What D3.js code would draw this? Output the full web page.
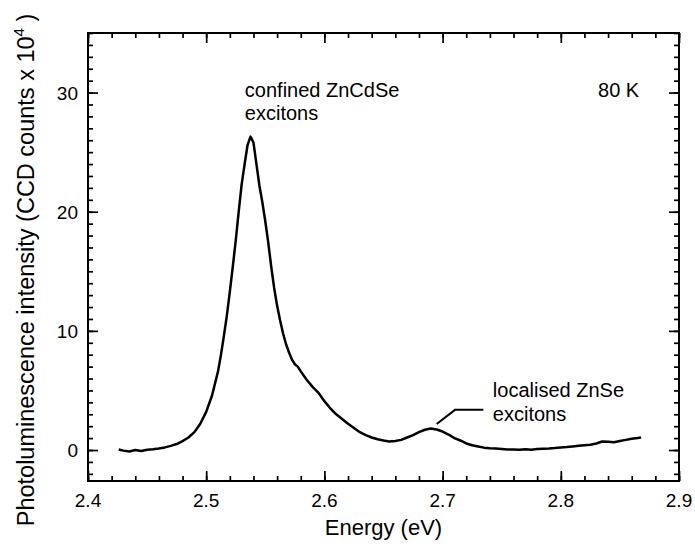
<!DOCTYPE html>
<html>
<head>
<meta charset="utf-8">
<script src="https://cdn.jsdelivr.net/npm/d3@7"></script>
<style>
  html, body { margin: 0; padding: 0; background: #fff; }
  svg { display: block; font-family: "Liberation Sans", Arial, sans-serif; }
</style>
</head>
<body>
<svg id="chart" width="695" height="550"></svg>
<script>
// ---- data ----
const energy = [
  2.426, 2.430, 2.435, 2.440, 2.445, 2.450, 2.455, 2.460, 2.465, 2.470,
  2.475, 2.480, 2.485, 2.490, 2.495, 2.500, 2.505, 2.5075, 2.510, 2.5125,
  2.515, 2.5175, 2.520, 2.5225, 2.525, 2.5275, 2.530, 2.5325, 2.535, 2.5375,
  2.540, 2.5425, 2.545, 2.5475, 2.550, 2.5525, 2.555, 2.5575, 2.560, 2.5625,
  2.565, 2.5675, 2.570, 2.5725, 2.575, 2.5775, 2.580, 2.585, 2.590, 2.595,
  2.600, 2.605, 2.610, 2.615, 2.620, 2.625, 2.630, 2.635, 2.640, 2.645,
  2.650, 2.655, 2.660, 2.665, 2.670, 2.675, 2.680, 2.685, 2.690, 2.695,
  2.700, 2.705, 2.710, 2.715, 2.720, 2.725, 2.730, 2.735, 2.740, 2.745,
  2.750, 2.755, 2.760, 2.765, 2.770, 2.775, 2.780, 2.785, 2.790, 2.795,
  2.800, 2.805, 2.810, 2.815, 2.820, 2.825, 2.830, 2.835, 2.840, 2.845,
  2.850, 2.855, 2.860, 2.865, 2.868
];
const intensity = [
  0.05, -0.05, -0.12, 0.0, -0.08, 0.02, 0.06, 0.12, 0.22, 0.35,
  0.5, 0.75, 1.05, 1.5, 2.2, 3.2, 4.6, 5.6, 6.6, 8.0,
  9.6, 11.3, 13.3, 15.4, 17.6, 20.0, 22.3, 24.0, 25.6, 26.3,
  25.8, 24.0, 22.2, 20.8, 19.2, 17.4, 15.4, 13.6, 12.1, 10.9,
  9.8, 8.9, 8.2, 7.6, 7.2, 7.0, 6.6, 5.9, 5.3, 4.8,
  4.1, 3.5, 3.0, 2.6, 2.2, 1.85, 1.5, 1.25, 1.05, 0.9,
  0.8, 0.72, 0.75, 0.85, 1.05, 1.25, 1.5, 1.7, 1.8, 1.72,
  1.55, 1.3, 1.0, 0.8, 0.55, 0.4, 0.3, 0.2, 0.15, 0.12,
  0.08, 0.05, 0.05, 0.02, 0.06, 0.03, 0.08, 0.1, 0.12, 0.16,
  0.22, 0.25, 0.3, 0.35, 0.4, 0.45, 0.55, 0.72, 0.7, 0.65,
  0.75, 0.85, 0.95, 1.0, 1.05
];
const xTicks = [2.4, 2.5, 2.6, 2.7, 2.8, 2.9];
const yTicks = [0, 10, 20, 30];
const xDomain = [2.4, 2.9];
const yDomain = [-2.6, 35];
const xLabel = "Energy (eV)";
const yLabelMain = "Photoluminescence intensity (CCD counts x 10";
const yLabelSup = "4";
const yLabelEnd = " )";
const annoPeak = ["confined ZnCdSe", "excitons"];
const annoSmall = ["localised ZnSe", "excitons"];
const tempLabel = "80 K";
// leader line for small peak, data coordinates
const leaderE = [2.695, 2.7105, 2.7345];
const leaderI = [2.18, 3.37, 3.37];

// ---- layout ----
const svg = d3.select("#chart");
const L = 88, R = 679, T = 33, B = 481;
const x = d3.scaleLinear().domain(xDomain).range([L, R]);
const y = d3.scaleLinear().domain(yDomain).range([B, T]);

const minorX = d3.range(0, 26).map(i => 2.4 + i * 0.02);
const minorY = d3.range(-2, 36).map(v => v);

const axisStyle = g => {
  g.select(".domain").remove();
  g.selectAll("text").remove();
  g.selectAll("line").attr("stroke", "#000").attr("stroke-width", 1.7);
};

// minor ticks (all four sides, inward)
svg.append("g").attr("transform", `translate(0,${B})`)
  .call(d3.axisTop(x).tickValues(minorX).tickSize(5)).call(axisStyle);
svg.append("g").attr("transform", `translate(0,${T})`)
  .call(d3.axisBottom(x).tickValues(minorX).tickSize(5)).call(axisStyle);
svg.append("g").attr("transform", `translate(${L},0)`)
  .call(d3.axisRight(y).tickValues(minorY).tickSize(5)).call(axisStyle);
svg.append("g").attr("transform", `translate(${R},0)`)
  .call(d3.axisLeft(y).tickValues(minorY).tickSize(5)).call(axisStyle);
// major ticks
svg.append("g").attr("transform", `translate(0,${B})`)
  .call(d3.axisTop(x).tickValues(xTicks).tickSize(10)).call(axisStyle);
svg.append("g").attr("transform", `translate(0,${T})`)
  .call(d3.axisBottom(x).tickValues(xTicks).tickSize(10)).call(axisStyle);
svg.append("g").attr("transform", `translate(${L},0)`)
  .call(d3.axisRight(y).tickValues(yTicks).tickSize(10)).call(axisStyle);
svg.append("g").attr("transform", `translate(${R},0)`)
  .call(d3.axisLeft(y).tickValues(yTicks).tickSize(10)).call(axisStyle);

// frame
svg.append("rect").attr("x", L).attr("y", T).attr("width", R - L).attr("height", B - T)
  .attr("fill", "none").attr("stroke", "#000").attr("stroke-width", 2);

// tick labels
svg.append("g").selectAll("text").data(xTicks).join("text")
  .attr("x", d => x(d)).attr("y", B + 26)
  .attr("text-anchor", "middle").attr("font-size", 19).text(d => d3.format(".1f")(d));
svg.append("g").selectAll("text").data(yTicks).join("text")
  .attr("x", L - 10).attr("y", d => y(d) + 7)
  .attr("text-anchor", "end").attr("font-size", 19).text(d => d);

// axis titles
svg.append("text").attr("x", (L + R) / 2).attr("y", 535)
  .attr("text-anchor", "middle").attr("font-size", 22).text(xLabel);
const yt = svg.append("text")
  .attr("transform", `translate(34,270) rotate(-90)`)
  .attr("text-anchor", "middle").attr("font-size", 23.5);
yt.append("tspan").text(yLabelMain);
yt.append("tspan").attr("dy", -10).attr("font-size", 15).text(yLabelSup);
yt.append("tspan").attr("dy", 10).text(yLabelEnd);

// curve
const pts = energy.map((e, i) => [e, intensity[i]]);
svg.append("path").datum(pts)
  .attr("fill", "none").attr("stroke", "#000").attr("stroke-width", 2.5)
  .attr("stroke-linejoin", "round")
  .attr("d", d3.line().x(d => x(d[0])).y(d => y(d[1])));

// annotations
svg.append("text").attr("x", x(2.5327)).attr("y", 97).attr("font-size", 20).text(annoPeak[0]);
svg.append("text").attr("x", x(2.5327)).attr("y", 120).attr("font-size", 20).text(annoPeak[1]);
svg.append("text").attr("x", x(2.8315)).attr("y", 97).attr("font-size", 20).text(tempLabel);
svg.append("text").attr("x", x(2.7425)).attr("y", 397).attr("font-size", 20).text(annoSmall[0]);
svg.append("text").attr("x", x(2.7425)).attr("y", 421).attr("font-size", 20).text(annoSmall[1]);
svg.append("path")
  .datum(leaderE.map((e, i) => [e, leaderI[i]]))
  .attr("fill", "none").attr("stroke", "#000").attr("stroke-width", 2)
  .attr("d", d3.line().x(d => x(d[0])).y(d => y(d[1])));
</script>
</body>
</html>
